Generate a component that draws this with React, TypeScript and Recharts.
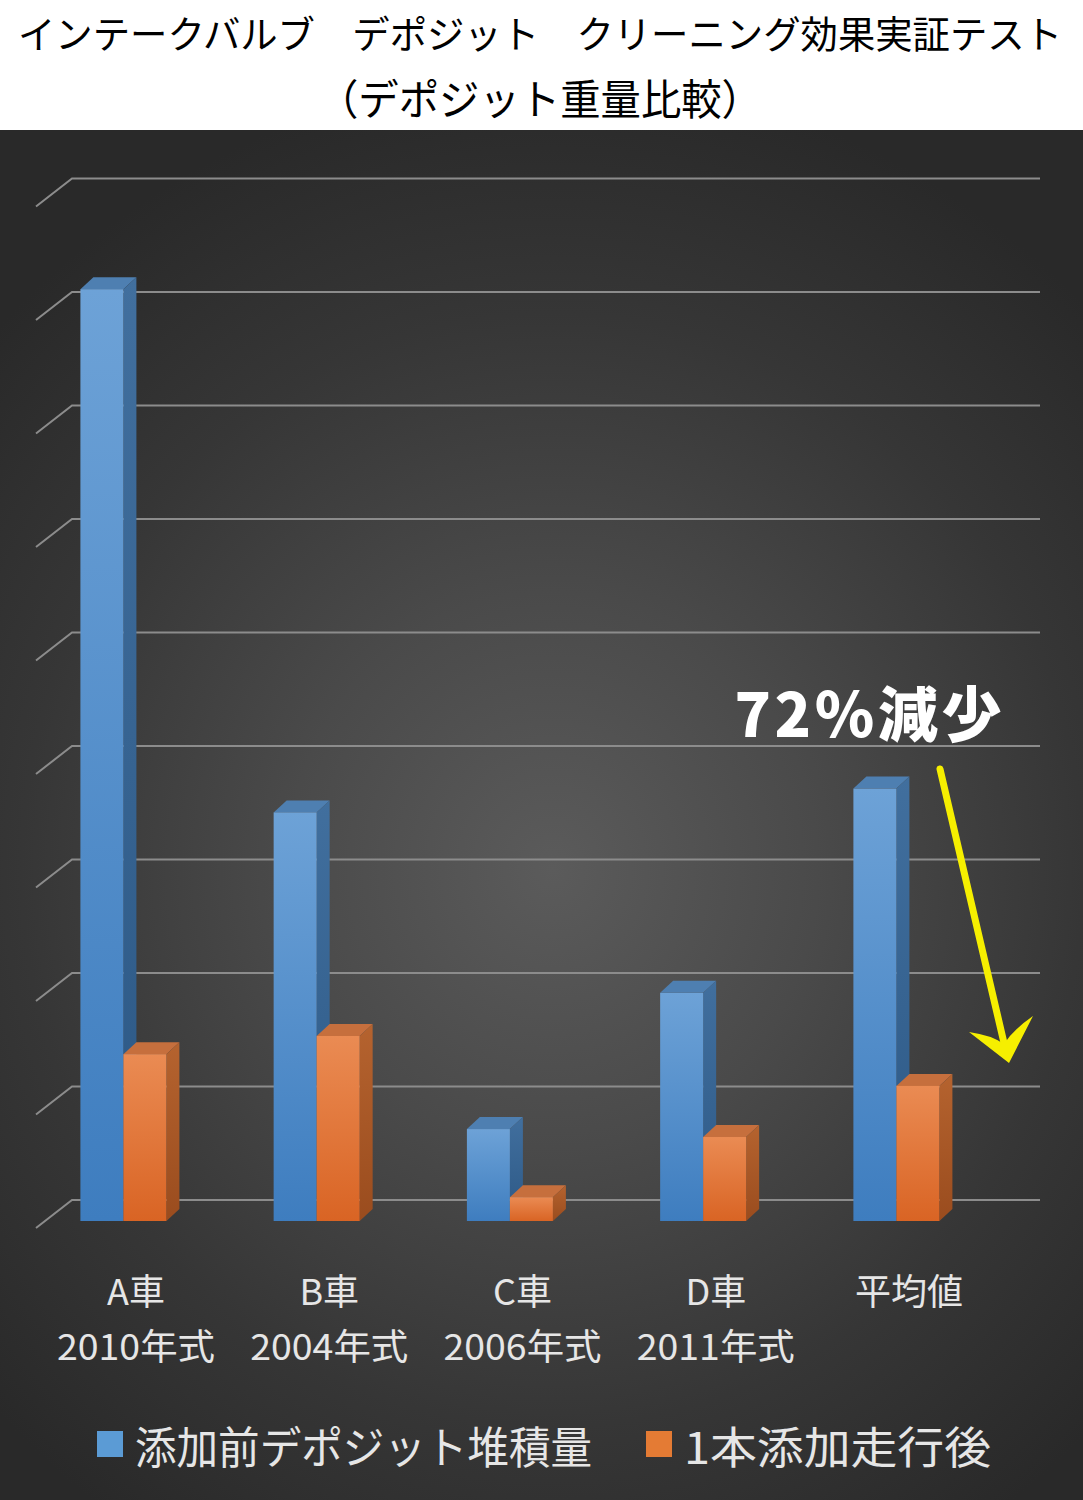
import React from 'react';
import { BarChart, Bar, XAxis, YAxis, CartesianGrid, Legend } from 'recharts';

// ---- data ----
const categories = ['A車', 'B車', 'C車', 'D車', '平均値'];
const modelYears = ['2010年式', '2004年式', '2006年式', '2011年式', ''];
const beforeValues = [8.21, 3.6, 0.81, 2.01, 3.81];
const afterValues = [1.47, 1.63, 0.21, 0.74, 1.19];
const yTicks = [0, 1, 2, 3, 4, 5, 6, 7, 8, 9];
const seriesNames = ['添加前デポジット堆積量', '1本添加走行後'];
const titleLines = ['インテークバルブ　デポジット　クリーニング効果実証テスト', '（デポジット重量比較）'];
const annotationText = '72％減少';

const data = categories.map((c, i) => ({
  name: c,
  year: modelYears[i],
  before: beforeValues[i],
  after: afterValues[i],
}));

// ---- layout / style ----
const W = 1083;
const H = 1500;
const PLOT_BOTTOM = 1221;
const DEPTH_X = 13;
const DEPTH_Y = 12;
const FONT = '"Noto Sans CJK JP", "Noto Sans", sans-serif';

const make3DShape = (
  gid: string,
  front: [string, string],
  side: [string, string],
  top: string
) => (props: any) => {
  const { x, y, width, height, index } = props;
  if (height == null || !(height > 0)) return <g />;
  const id = `${gid}-${index}`;
  const dx = DEPTH_X;
  const dy = DEPTH_Y;
  return (
    <g>
      <defs>
        <linearGradient id={`${id}-f`} x1="0" y1="0" x2="0" y2="1">
          <stop offset="0%" stopColor={front[0]} />
          <stop offset="100%" stopColor={front[1]} />
        </linearGradient>
        <linearGradient id={`${id}-s`} x1="0" y1="0" x2="0" y2="1">
          <stop offset="0%" stopColor={side[0]} />
          <stop offset="100%" stopColor={side[1]} />
        </linearGradient>
      </defs>
      <polygon
        points={`${x},${y} ${x + dx},${y - dy} ${x + width + dx},${y - dy} ${x + width},${y}`}
        fill={top}
      />
      <polygon
        points={`${x + width},${y} ${x + width + dx},${y - dy} ${x + width + dx},${y + height - dy} ${x + width},${y + height}`}
        fill={`url(#${id}-s)`}
      />
      <rect x={x} y={y} width={width} height={height} fill={`url(#${id}-f)`} />
    </g>
  );
};

const blueShape = make3DShape('blue', ['#6da2d7', '#3e7dbf'], ['#416f9e', '#2c5885'], '#4e7fb1');
const orangeShape = make3DShape('orange', ['#ea8b53', '#d96424'], ['#b5632f', '#9a4c1e'], '#c66f3d');

const renderGridLine = (props: any) => {
  const y = props.y1 - 21;
  return (
    <path
      key={`g-${props.index}`}
      d={`M36,${y + 28} L72,${y} L1040,${y}`}
      stroke="#8c8c8c"
      strokeWidth={2}
      fill="none"
    />
  );
};

const renderTick = (props: any) => {
  const { x, index, payload } = props;
  const cx = x + DEPTH_X;
  const year = modelYears[index] || '';
  return (
    <g>
      <text
        x={cx}
        y={PLOT_BOTTOM + 68}
        textAnchor="middle"
        dominantBaseline="central"
        fontSize={36}
        fontFamily={FONT}
        fill="#e6e6e6"
      >
        {payload.value}
      </text>
      {year ? (
        <text
          x={cx}
          y={PLOT_BOTTOM + 123}
          textAnchor="middle"
          dominantBaseline="central"
          fontSize={36}
          fontFamily={FONT}
          fill="#e6e6e6"
          textLength={158}
          lengthAdjust="spacingAndGlyphs"
        >
          {year}
        </text>
      ) : null}
    </g>
  );
};

const legendX = [97, 646];
const legendTextW = [457, 307];

const LegendContent = (props: any) => {
  const payload = [...(props.payload || [])].sort(
    (a: any, b: any) => seriesNames.indexOf(a.value) - seriesNames.indexOf(b.value)
  );
  return (
    <svg width={W} height={80} style={{ display: 'block' }}>
      {payload.map((p: any, i: number) => (
        <g key={`lg-${i}`}>
          <rect x={legendX[i]} y={21} width={26} height={26} fill={p.color} />
          <text
            x={legendX[i] + 38}
            y={34.5}
            dominantBaseline="central"
            fontSize={44}
            fontFamily={FONT}
            fill="#e6e6e6"
            textLength={legendTextW[i]}
            lengthAdjust="spacingAndGlyphs"
          >
            {p.value}
          </text>
        </g>
      ))}
    </svg>
  );
};

export default function App() {
  return (
    <div
      style={{
        position: 'absolute',
        left: 0,
        top: 0,
        width: W,
        height: H,
        background: '#ffffff',
        overflow: 'hidden',
      }}
    >
      <div
        style={{
          position: 'absolute',
          left: 0,
          top: 130,
          width: W,
          height: H - 130,
          background:
            'radial-gradient(ellipse 70% 58% at 51% 54%, #5b5b5b 0%, #4a4a4a 35%, #363636 70%, #292929 100%)',
        }}
      />
      <svg
        width={W}
        height={130}
        style={{ position: 'absolute', left: 0, top: 0 }}
      >
        <text
          x={540}
          y={31}
          textAnchor="middle"
          dominantBaseline="central"
          fontSize={38}
          fontFamily={FONT}
          fill="#000"
          textLength={1044}
          lengthAdjust="spacingAndGlyphs"
        >
          {titleLines[0]}
        </text>
        <text
          x={540}
          y={96}
          textAnchor="middle"
          dominantBaseline="central"
          fontSize={42}
          fontFamily={FONT}
          fill="#000"
          textLength={444}
          lengthAdjust="spacingAndGlyphs"
        >
          {titleLines[1]}
        </text>
      </svg>
      <div style={{ position: 'absolute', left: 0, top: 0 }}>
        <BarChart
          width={W}
          height={H}
          data={data}
          barGap={0}
          margin={{ top: 199.5, right: 90.35, bottom: 10, left: 26.4 }}
        >
          <CartesianGrid vertical={false} horizontal={renderGridLine} />
          <XAxis
            dataKey="name"
            height={189}
            axisLine={false}
            tickLine={false}
            interval={0}
            tick={renderTick}
          />
          <YAxis hide type="number" domain={[0, 9]} ticks={yTicks} />
          <Legend
            verticalAlign="bottom"
            height={80}
            content={LegendContent}
            wrapperStyle={{ left: 0, width: W }}
          />
          <Bar
            dataKey="before"
            name={seriesNames[0]}
            fill="#5b9bd5"
            barSize={43}
            shape={blueShape}
            isAnimationActive={false}
          />
          <Bar
            dataKey="after"
            name={seriesNames[1]}
            fill="#e47b34"
            barSize={43}
            shape={orangeShape}
            isAnimationActive={false}
          />
        </BarChart>
      </div>
      <svg
        width={W}
        height={H}
        style={{ position: 'absolute', left: 0, top: 0, pointerEvents: 'none' }}
      >
        <text
          x={868}
          y={710}
          textAnchor="middle"
          dominantBaseline="central"
          fontSize={60}
          fontWeight={900}
          fontFamily={FONT}
          fill="#ffffff"
          textLength={267}
          lengthAdjust="spacing"
        >
          {annotationText}
        </text>
        <line x1={940} y1={769} x2={1004} y2={1043} stroke="#f6ef00" strokeWidth={7} strokeLinecap="round" />
        <path
          d="M1009,1063 L969,1032 Q991,1035 1004,1044 Q1014,1029 1033,1016 Z"
          fill="#f6ef00"
        />
      </svg>
    </div>
  );
}
